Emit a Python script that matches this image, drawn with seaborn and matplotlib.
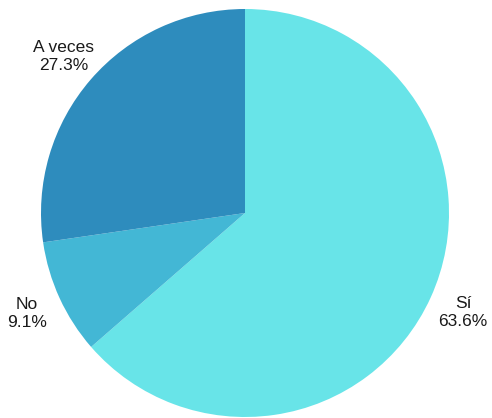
import matplotlib
matplotlib.use('Agg')
import matplotlib.pyplot as plt
import seaborn as sns

# datos
categorias = ['Sí', 'No', 'A veces']
porcentajes = [63.6, 9.1, 27.3]
colores = ['#68E4E8', '#43B7D5', '#2E8CBD']

sns.set_theme(style="white")
plt.rcParams['font.family'] = ['Liberation Sans', 'DejaVu Sans']

fig = plt.figure(figsize=(4.92, 4.18), dpi=100)
ax = fig.add_axes([0, 0, 1, 1])

etiquetas = [f"{c}\n{p:.1f}%" for c, p in zip(categorias, porcentajes)]
wedges, textos = ax.pie(porcentajes, labels=etiquetas, colors=sns.color_palette(colores),
                        startangle=90, counterclock=False, radius=204,
                        center=(245, 205), labeldistance=1.175,
                        wedgeprops=dict(linewidth=0))
for t in textos:
    t.set_ha('center')
    t.set_va('center')
    t.set_fontsize(12.5)
    t.set_color('#1a1a1a')
    t.set_linespacing(1.25)

ax.set_xlim(0, 492)
ax.set_ylim(0, 418)
ax.set_aspect('equal')
ax.axis('off')

fig.savefig('out.png', dpi=100)
